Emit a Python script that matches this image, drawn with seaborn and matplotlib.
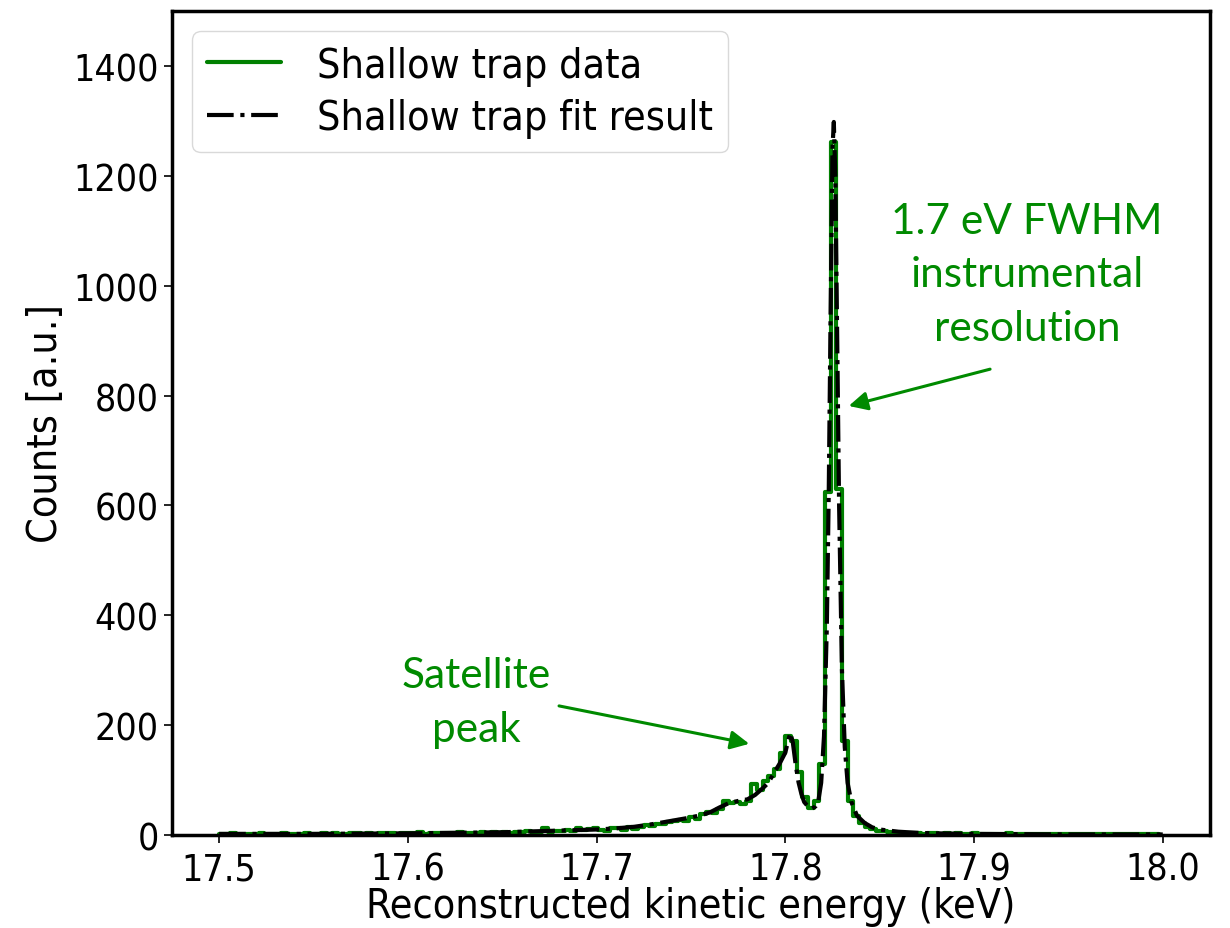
import numpy as np
import pandas as pd
import matplotlib
matplotlib.use("Agg")
import matplotlib.pyplot as plt
import seaborn as sns

# ---------------- data ----------------
bin_start = 17.5       # keV
bin_width = 0.003      # keV
data_counts = [
    2, 1, 3, 2, 2, 1, 2, 3, 1, 2,
    2, 3, 1, 2, 2, 3, 2, 1, 3, 2,
    3, 2, 2, 3, 4, 2, 3, 2, 3, 4,
    3, 2, 4, 3, 3, 5, 2, 4, 3, 3,
    4, 3, 5, 4, 3, 4, 5, 3, 6, 4,
    5, 4, 6, 5, 7, 5, 6, 12, 6, 8,
    7, 10, 8, 12, 9, 11, 13,
    10, 8, 12,
    12, 10, 14, 11, 15,
    18, 16, 20,
    20, 24, 26,
    28, 26, 32, 30,
    38, 42, 40,
    48, 62,
    58, 60, 56, 62,
    92, 82, 98, 108, 120, 150,
    180, 172,
    115, 70, 50, 62,
    130, 625, 1262, 630,
    172, 62, 34, 22, 15, 11, 8, 7, 5,
    4, 4, 3, 4, 3, 2, 3, 3, 2, 3,
    2, 3, 2, 2, 3, 2, 2, 1, 2, 2,
    3, 1, 2, 2, 1, 2, 2, 1, 2, 1,
    2, 2, 1, 1, 2, 1, 2, 1, 1, 2,
    1, 1, 2, 1, 1, 1, 2,
]

fit_energy = [17.500, 17.550, 17.600, 17.650, 17.680, 17.700, 17.710, 17.720,
              17.730, 17.740, 17.750, 17.755, 17.760, 17.765, 17.770, 17.775,
              17.780, 17.784, 17.788, 17.791, 17.794, 17.797, 17.800, 17.8015,
              17.8027, 17.8040, 17.8055, 17.8070, 17.8085, 17.8100, 17.8120,
              17.8140, 17.8160, 17.8175, 17.8190, 17.8205, 17.8220, 17.8230,
              17.8240, 17.8250, 17.8257, 17.8265, 17.8275, 17.8285, 17.8300,
              17.8315, 17.8330, 17.8350, 17.8380, 17.8420, 17.8460, 17.8500,
              17.8600, 17.8700, 17.8800, 17.9000, 17.9500, 18.0000]
fit_counts = [2, 2, 3, 5, 8, 10, 12, 15,
              20, 26, 32, 36, 41, 50, 58, 62,
              65, 73, 85, 95, 113, 130, 150, 172,
              186, 168, 128, 96, 75, 60, 52,
              48, 52, 62, 95, 180, 380, 620,
              950, 1250, 1298, 1200, 900, 600, 300,
              160, 95, 60, 35, 22, 14, 10,
              6, 4, 3, 2, 1, 1]

label_data = "Shallow trap data"
label_fit = "Shallow trap fit result"
xlabel = "Reconstructed kinetic energy (keV)"
ylabel = "Counts [a.u.]"
note_res = "1.7 eV FWHM\ninstrumental\nresolution"
note_sat = "Satellite\npeak"
xticks = [17.5, 17.6, 17.7, 17.8, 17.9, 18.0]
yticks = [0, 200, 400, 600, 800, 1000, 1200, 1400]

# ---------------- build frames ----------------
edges = bin_start + bin_width * np.arange(len(data_counts) + 1)
df_data = pd.DataFrame({"E": edges, "N": list(data_counts) + [data_counts[-1]]})
df_fit = pd.DataFrame({"E": fit_energy, "N": fit_counts})

# ---------------- style ----------------
sns.set_theme(style="white")
plt.rcParams["font.family"] = ["DejaVu Sans"]
plt.rcParams["font.stretch"] = "condensed"
plt.rcParams.update({"text.color": "black", "axes.labelcolor": "black",
                     "xtick.color": "black", "ytick.color": "black"})

fig = plt.figure(figsize=(12.3, 9.29), dpi=100)
ax = fig.add_axes([0.1398, 0.1001, 0.8439, 0.887])

green = "#008a00"
sns.lineplot(data=df_data, x="E", y="N", ax=ax, estimator=None, sort=False,
             drawstyle="steps-post", color="green", lw=3, label=label_data,
             zorder=2)
sns.lineplot(data=df_fit, x="E", y="N", ax=ax, estimator=None, sort=False,
             color="black", lw=3, linestyle="-.", label=label_fit, zorder=3)

ax.set_xlim(17.475, 18.025)
ax.set_ylim(0, 1500)
ax.set_xticks(xticks)
ax.set_yticks(yticks)
ax.set_xticklabels([f"{v:.1f}" for v in xticks])
ax.tick_params(axis="both", which="both", direction="out", length=6, width=1.2,
               labelsize=26.8, color="black", bottom=True, left=True)
ax.tick_params(axis="x", pad=5)
for s in ax.spines.values():
    s.set_linewidth(2.5)
    s.set_color("black")
ax.set_xlabel(xlabel, fontsize=29.5, labelpad=-1)
ax.set_ylabel(ylabel, fontsize=29.5, labelpad=5)

leg = ax.legend(loc="upper left", fontsize=29.5, frameon=True, handlelength=1.8,
                borderpad=0.35, labelspacing=0.3, handletextpad=0.9)
leg.get_frame().set_edgecolor("#d0d0d0")

ann_font = ["Lato", "DejaVu Sans"]
ax.annotate("", xy=(17.8336, 781), xytext=(17.9085, 848),
            arrowprops=dict(arrowstyle="-|>", color=green, lw=2.2,
                            mutation_scale=28, shrinkA=0, shrinkB=0))
ax.text(17.928, 1021, note_res, color=green, fontsize=30.5, ha="center",
        va="center", family=ann_font, stretch="normal", linespacing=1.5)
ax.annotate("", xy=(17.7809, 166), xytext=(17.6801, 235),
            arrowprops=dict(arrowstyle="-|>", color=green, lw=2.2,
                            mutation_scale=28, shrinkA=0, shrinkB=0))
ax.text(17.6364, 242, note_sat, color=green, fontsize=30.5, ha="center",
        va="center", family=ann_font, stretch="normal", linespacing=1.5)

fig.savefig("out.png", dpi=100)
